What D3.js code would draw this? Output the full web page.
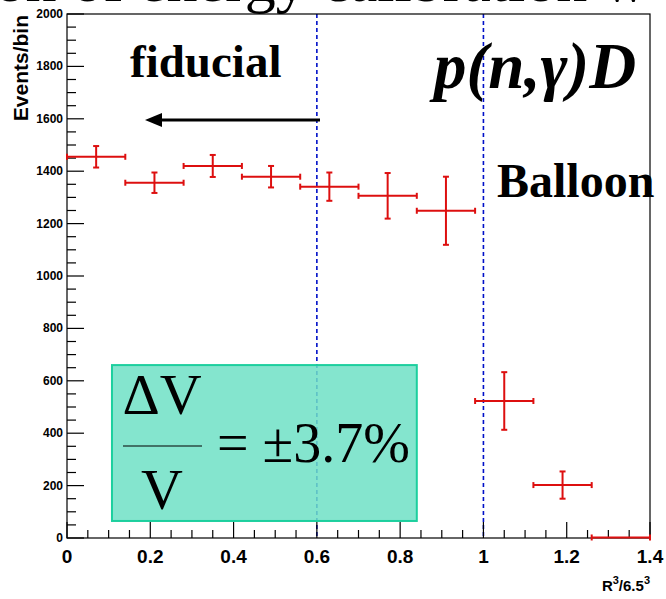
<!DOCTYPE html>
<html>
<head>
<meta charset="utf-8">
<script src="https://cdn.jsdelivr.net/npm/d3@7"></script>
<style>
  body { margin: 0; background: #fff; }
  svg { display: block; }
</style>
</head>
<body>
<svg id="chart"></svg>
<script>
// bins of R^3/6.5^3, width 0.14
let binCenters = [0.07, 0.21, 0.35, 0.49, 0.63, 0.77, 0.91, 1.05, 1.19, 1.33];
let binHalfWidth = 0.07;
let counts = [1455, 1356, 1420, 1379, 1341, 1306, 1249, 523, 202, 2];
let errors = [41, 39, 42, 41, 54, 87, 130, 110, 52, 0];
let xTicks = [0, 0.2, 0.4, 0.6, 0.8, 1, 1.2, 1.4];
let yTicks = [0, 200, 400, 600, 800, 1000, 1200, 1400, 1600, 1800, 2000];
let cutLines = [0.6, 1.0];

let W = 666, H = 599;
let margin = {top: 14, right: 16, bottom: 61, left: 67};

let svg = d3.select('#chart').attr('width', W).attr('height', H);

let x = d3.scaleLinear().domain([0, 1.4]).range([margin.left, W - margin.right]);
let y = d3.scaleLinear().domain([0, 2000]).range([H - margin.bottom, margin.top]);

let serif = '"Liberation Serif", "Times New Roman", serif';
let bold = '"Liberation Sans", Arial, sans-serif';

// cropped title above the frame (only its lower edge is visible)
svg.append('text')
    .attr('x', -40)
    .attr('y', 1)
    .style('font-family', serif)
    .style('font-size', '62px')
    .text('tion of energy calibration w');

// cut lines
let dashG = svg.append('g');
cutLines.forEach(function (v) {
    dashG.append('line')
        .attr('x1', x(v)).attr('x2', x(v))
        .attr('y1', y(2000)).attr('y2', y(0))
        .attr('stroke', '#0010c8')
        .attr('stroke-width', 1.6)
        .attr('stroke-dasharray', '4,3');
});

// volume uncertainty box (semi-transparent, so the cut line shows through)
svg.append('rect')
    .attr('x', x(0.108)).attr('y', y(660))
    .attr('width', x(0.84) - x(0.108)).attr('height', y(65) - y(660))
    .attr('fill', '#6fe0c6')
    .attr('fill-opacity', 0.85)
    .attr('stroke', '#1ccf9e')
    .attr('stroke-width', 2);

let fx = 162;
svg.append('text').attr('x', fx).attr('y', 414).attr('text-anchor', 'middle')
    .style('font-family', serif).style('font-size', '58px').text('ΔV');
svg.append('line').attr('x1', 123).attr('x2', 202).attr('y1', 446).attr('y2', 446)
    .attr('stroke', '#000').attr('stroke-width', 1.2);
svg.append('text').attr('x', fx).attr('y', 509).attr('text-anchor', 'middle')
    .style('font-family', serif).style('font-size', '58px').text('V');
svg.append('text').attr('x', 217).attr('y', 462)
    .style('font-family', serif).style('font-size', '56px').text('= ±3.7%');

// frame
svg.append('rect')
    .attr('x', x(0)).attr('y', y(2000))
    .attr('width', x(1.4) - x(0)).attr('height', y(0) - y(2000))
    .attr('fill', 'none').attr('stroke', '#000').attr('stroke-width', 1.2);

let axisG = svg.append('g').attr('stroke', '#000');

// y ticks
d3.range(0, 2001, 50).forEach(function (v) {
    let major = v % 200 === 0;
    axisG.append('line')
        .attr('x1', x(0)).attr('x2', x(0) + (major ? 17 : 9))
        .attr('y1', y(v)).attr('y2', y(v))
        .attr('stroke-width', 1.2);
});
svg.append('g').selectAll('text').data(yTicks).enter().append('text')
    .attr('x', x(0) - 4)
    .attr('y', function (d) { return y(d) + 4; })
    .attr('text-anchor', 'end')
    .style('font-family', '"Liberation Sans Narrow", "Arial Narrow", ' + bold)
    .style('font-weight', 'bold')
    .style('font-size', '12px')
    .text(function (d) { return d; });

// x ticks
d3.range(0, 28.5, 1).forEach(function (i) {
    let v = i * 0.05;
    let major = i % 4 === 0;
    axisG.append('line')
        .attr('x1', x(v)).attr('x2', x(v))
        .attr('y1', y(0)).attr('y2', y(0) - (major ? 16 : 8))
        .attr('stroke-width', 1.2);
});
svg.append('g').selectAll('text').data(xTicks).enter().append('text')
    .attr('x', function (d) { return x(d); })
    .attr('y', y(0) + 25)
    .attr('text-anchor', 'middle')
    .style('font-family', bold)
    .style('font-weight', 'bold')
    .style('font-size', '19px')
    .text(function (d) { return d; });

// axis titles
let xt = svg.append('text')
    .attr('x', x(1.4))
    .attr('y', y(0) + 53)
    .attr('text-anchor', 'end')
    .style('font-family', bold)
    .style('font-weight', 'bold')
    .style('font-size', '15px');
xt.append('tspan').text('R');
xt.append('tspan').attr('dy', -7).style('font-size', '11px').text('3');
xt.append('tspan').attr('dy', 7).text('/6.5');
xt.append('tspan').attr('dy', -7).style('font-size', '11px').text('3');

svg.append('text')
    .attr('transform', 'translate(28,' + 15 + ') rotate(-90)')
    .attr('text-anchor', 'end')
    .style('font-family', bold)
    .style('font-weight', 'bold')
    .style('font-size', '21px')
    .text('Events/bin');

// data with error bars
let red = '#dd0f0f';
let cap = 3;
let pts = svg.append('g').attr('stroke', red).attr('stroke-width', 2);
binCenters.forEach(function (c, i) {
    let xl = x(c - binHalfWidth), xr = x(c + binHalfWidth), xc = x(c);
    let yc = y(counts[i]);
    pts.append('line').attr('x1', xl).attr('x2', xr).attr('y1', yc).attr('y2', yc);
    pts.append('line').attr('x1', xl).attr('x2', xl).attr('y1', yc - cap).attr('y2', yc + cap);
    pts.append('line').attr('x1', xr).attr('x2', xr).attr('y1', yc - cap).attr('y2', yc + cap);
    if (errors[i] > 0) {
        let yt = y(counts[i] + errors[i]), yb = y(counts[i] - errors[i]);
        pts.append('line').attr('x1', xc).attr('x2', xc).attr('y1', yt).attr('y2', yb);
        pts.append('line').attr('x1', xc - cap).attr('x2', xc + cap).attr('y1', yt).attr('y2', yt);
        pts.append('line').attr('x1', xc - cap).attr('x2', xc + cap).attr('y1', yb).attr('y2', yb);
    }
});

// annotations
svg.append('text').attr('x', 130).attr('y', 77)
    .style('font-family', serif).style('font-weight', 'bold').style('font-size', '47px')
    .text('fiducial');
svg.append('line').attr('x1', 320).attr('x2', 158).attr('y1', 120).attr('y2', 120)
    .attr('stroke', '#000').attr('stroke-width', 3);
svg.append('path').attr('d', 'M145,120 L162,113 L162,127 Z').attr('fill', '#000');

svg.append('text').attr('x', 434).attr('y', 88)
    .style('font-family', serif).style('font-weight', 'bold').style('font-style', 'italic')
    .style('font-size', '65px')
    .text('p(n,γ)D');
svg.append('text').attr('x', 497).attr('y', 197)
    .style('font-family', serif).style('font-weight', 'bold').style('font-size', '48px')
    .text('Balloon');
</script>
</body>
</html>
